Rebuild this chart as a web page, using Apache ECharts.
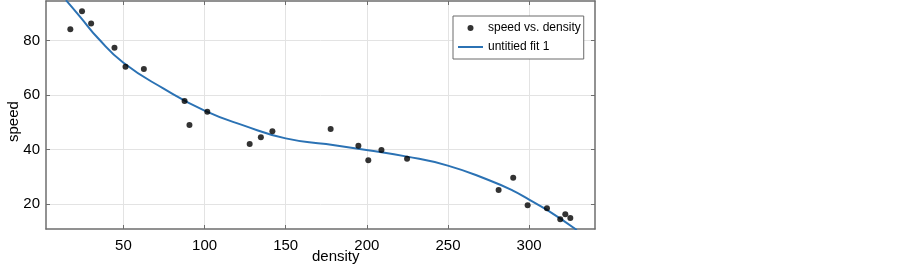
<!DOCTYPE html>
<html>
<head>
<meta charset="utf-8">
<script src="https://cdn.jsdelivr.net/npm/echarts@6/dist/echarts.min.js"></script>
<style>
html,body{margin:0;padding:0;background:#fff;}
#chart{width:903px;height:269px;}
</style>
</head>
<body>
<div id="chart"></div>
<script>
// Observed data
const densityObs = [17.3, 24.5, 30.1, 44.5, 51.3, 62.6, 87.7, 90.7, 101.7, 127.8, 134.7, 141.8, 177.7, 194.8, 200.9, 209.0, 224.8, 281.2, 290.2, 299.1, 311.0, 319.2, 322.3, 325.4];
const speedObs   = [84.2, 90.8, 86.3, 77.4, 70.4, 69.6, 57.8, 49.0, 53.9, 42.0, 44.5, 46.7, 47.6, 41.4, 36.1, 39.8, 36.6, 25.1, 29.6, 19.5, 18.4, 14.4, 16.2, 14.8];
// Fitted curve
const fitDensity = [14.6, 23.6, 34.4, 50.0, 74.8, 100.0, 124.8, 150.0, 174.9, 199.7, 224.8, 249.9, 275.0, 290.0, 300.0, 311.0, 329.4];
const fitSpeed   = [94.9, 88.6, 80.9, 71.9, 62.4, 54.3, 48.7, 44.1, 42.0, 39.8, 37.4, 34.1, 28.8, 24.9, 21.6, 17.8, 10.45];
// Ticks
const xTicks = [50, 100, 150, 200, 250, 300];
const yTicks = [20, 40, 60, 80];
const xRange = [2.3, 340.6];
const yRange = [10.8, 94.6];
const seriesNames = ['speed vs. density', 'untitied fit 1'];
const axisNames = {x: 'density', y: 'speed'};

const FONT = '"Liberation Sans", Arial, sans-serif';
const frameColor = '#6e6e6e';
const gridColor = '#e3e3e3';

const chart = echarts.init(document.getElementById('chart'), null, {renderer: 'canvas'});

function xAxisDef(pos, main) {
  return {
    type: 'value', position: pos, min: xRange[0], max: xRange[1],
    axisLine: {show: true, onZero: false, lineStyle: {color: frameColor, width: 1.5}},
    axisTick: {show: true, inside: true, length: 4, customValues: xTicks, lineStyle: {color: frameColor, width: 1}},
    axisLabel: main ? {show: true, customValues: xTicks, color: '#000', fontSize: 15, fontFamily: FONT, margin: 9, hideOverlap: false} : {show: false},
    splitLine: {show: main, lineStyle: {color: gridColor, width: 1}}
  };
}
function yAxisDef(pos, main) {
  return {
    type: 'value', position: pos, min: yRange[0], max: yRange[1],
    axisLine: {show: true, onZero: false, lineStyle: {color: frameColor, width: 1.5}},
    axisTick: {show: true, inside: true, length: 4, customValues: yTicks, lineStyle: {color: frameColor, width: 1}},
    axisLabel: main ? {show: true, customValues: yTicks, color: '#000', fontSize: 15, fontFamily: FONT, margin: 6, hideOverlap: false} : {show: false},
    splitLine: {show: main, lineStyle: {color: gridColor, width: 1}}
  };
}

const option = {
  animation: false,
  backgroundColor: '#fff',
  grid: {left: 46, right: 308, top: 1, bottom: 40, containLabel: false},
  xAxis: [xAxisDef('bottom', true), xAxisDef('top', false)],
  yAxis: [yAxisDef('left', true), yAxisDef('right', false)],
  legend: {
    orient: 'vertical',
    left: 453, top: 16,
    padding: [5, 3, 5, 5],
    itemGap: 5,
    itemWidth: 25, itemHeight: 6,
    backgroundColor: '#fff',
    borderColor: '#6a6a6a', borderWidth: 1,
    textStyle: {fontSize: 12, fontFamily: FONT, color: '#000', lineHeight: 14},
    data: [
      {name: seriesNames[0], icon: 'circle', itemStyle: {color: '#000'}},
      {name: seriesNames[1], icon: 'path://M0,0 L50,0 L50,4 L0,4 Z', itemStyle: {color: '#2b72b4'}}
    ]
  },
  graphic: [
    {type: 'text', left: 337 - 25, top: 249, style: {text: axisNames.x, font: '15px ' + FONT, fill: '#000'}},
    {type: 'text', x: 6, y: 121 + 21, rotation: Math.PI / 2, style: {text: axisNames.y, font: '15px ' + FONT, fill: '#000'}}
  ],
  series: [
    {
      name: seriesNames[1], type: 'line', xAxisIndex: 0, yAxisIndex: 0,
      data: fitDensity.map((d, i) => [d, fitSpeed[i]]),
      smooth: 0.5, showSymbol: false, symbol: 'none', clip: true,
      lineStyle: {color: '#2b72b4', width: 2},
      z: 2
    },
    {
      name: seriesNames[0], type: 'scatter', xAxisIndex: 0, yAxisIndex: 0,
      data: densityObs.map((d, i) => [d, speedObs[i]]),
      symbolSize: 6, itemStyle: {color: '#000'},
      z: 3
    }
  ]
};
chart.setOption(option);
</script>
</body>
</html>
